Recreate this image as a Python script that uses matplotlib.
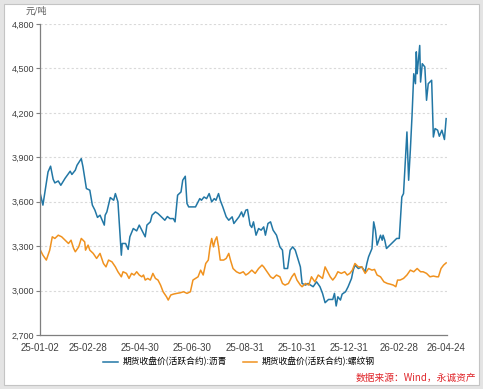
import matplotlib
matplotlib.use('Agg')
import matplotlib.pyplot as plt
from matplotlib.patches import Rectangle
from matplotlib.ticker import FuncFormatter
import pandas as pd

plt.rcParams['font.family'] = ['Liberation Sans', 'Noto Sans CJK SC', 'DejaVu Sans']

# 期货收盘价(活跃合约):沥青
bit_dates = ['25-01-02', '25-01-06', '25-01-12', '25-01-15', '25-01-18', '25-01-20', '25-01-24', '25-01-27',
             '25-02-01', '25-02-07', '25-02-09', '25-02-13', '25-02-15', '25-02-20', '25-02-22', '25-02-26',
             '25-03-02', '25-03-05', '25-03-08', '25-03-11', '25-03-14', '25-03-19', '25-03-20', '25-03-22',
             '25-03-26', '25-03-30', '25-04-01', '25-04-04', '25-04-08', '25-04-09', '25-04-13', '25-04-16',
             '25-04-18', '25-04-22', '25-04-26', '25-04-29', '25-05-02', '25-05-06', '25-05-08', '25-05-12',
             '25-05-14', '25-05-18', '25-05-21', '25-05-25', '25-05-29', '25-06-01', '25-06-04', '25-06-08',
             '25-06-10', '25-06-13', '25-06-15', '25-06-17', '25-06-19', '25-06-22', '25-06-24', '25-06-26',
             '25-06-30', '25-07-04', '25-07-06', '25-07-09', '25-07-11', '25-07-14', '25-07-17', '25-07-20',
             '25-07-23', '25-07-26', '25-07-28', '25-07-31', '25-08-02', '25-08-05', '25-08-09', '25-08-12',
             '25-08-16', '25-08-18', '25-08-21', '25-08-24', '25-08-27', '25-08-29', '25-09-01', '25-09-03',
             '25-09-06', '25-09-08', '25-09-10', '25-09-13', '25-09-16', '25-09-19', '25-09-22', '25-09-24',
             '25-09-27', '25-09-30', '25-10-03', '25-10-07', '25-10-11', '25-10-14', '25-10-16', '25-10-20',
             '25-10-23', '25-10-26', '25-10-29', '25-11-01', '25-11-04', '25-11-06', '25-11-10', '25-11-13',
             '25-11-19', '25-11-23', '25-11-27', '25-11-30', '25-12-03', '25-12-07', '25-12-12', '25-12-14',
             '25-12-16', '25-12-18', '25-12-21', '25-12-23', '25-12-27', '25-12-30', '26-01-03', '26-01-05',
             '26-01-07', '26-01-11', '26-01-15', '26-01-19', '26-01-21', '26-01-23', '26-01-27', '26-01-29',
             '26-01-31', '26-02-02', '26-02-06', '26-02-08', '26-02-09', '26-02-11', '26-02-13', '26-02-17',
             '26-02-21', '26-02-25', '26-02-28', '26-03-03', '26-03-05', '26-03-07', '26-03-09', '26-03-11',
             '26-03-13', '26-03-15', '26-03-17', '26-03-19', '26-03-20', '26-03-21', '26-03-24', '26-03-25',
             '26-03-27', '26-03-30', '26-04-01', '26-04-03', '26-04-07', '26-04-09', '26-04-11', '26-04-14',
             '26-04-16', '26-04-19', '26-04-22', '26-04-24']
bit_vals = [3678, 3577, 3801, 3840, 3752, 3727, 3740, 3711,
            3758, 3806, 3784, 3813, 3846, 3891, 3835, 3689,
            3678, 3577, 3543, 3494, 3509, 3442, 3509, 3531,
            3628, 3610, 3655, 3599, 3239, 3318, 3318, 3278,
            3363, 3419, 3403, 3442, 3408, 3363, 3442, 3464,
            3509, 3531, 3520, 3498, 3475, 3500, 3486, 3486,
            3464, 3644, 3655, 3666, 3745, 3772, 3588, 3565,
            3565, 3565, 3588, 3621, 3610, 3632, 3621, 3655,
            3599, 3621, 3610, 3655, 3610, 3565, 3498, 3475,
            3498, 3453, 3475, 3498, 3531, 3498, 3543, 3547,
            3442, 3426, 3464, 3374, 3419, 3408, 3430, 3374,
            3453, 3464, 3408, 3374, 3295, 3273, 3149, 3149,
            3273, 3295, 3273, 3217, 3160, 3048, 3037, 3048,
            3026, 3059, 3026, 2981, 2918, 2940, 2940, 2981,
            2896, 2958, 2936, 2976, 2992, 3026, 3082, 3138,
            3172, 3149, 3160, 3127, 3183, 3228, 3284, 3464,
            3408, 3307, 3374, 3340, 3374, 3340, 3284, 3307,
            3329, 3352, 3352, 3632, 3655, 3869, 4071, 3745,
            3948, 4183, 4464, 4397, 4612, 4464, 4655, 4408,
            4532, 4510, 4285, 4397, 4420, 4037, 4094, 4083,
            4042, 4083, 4020, 4161]

# 期货收盘价(活跃合约):螺纹钢
reb_dates = ['25-01-02', '25-01-06', '25-01-10', '25-01-14', '25-01-17', '25-01-20', '25-01-24', '25-01-28',
             '25-02-01', '25-02-05', '25-02-08', '25-02-11', '25-02-13', '25-02-17', '25-02-20', '25-02-24',
             '25-02-25', '25-02-28', '25-03-02', '25-03-06', '25-03-10', '25-03-14', '25-03-18', '25-03-21',
             '25-03-24', '25-03-28', '25-04-01', '25-04-04', '25-04-08', '25-04-10', '25-04-14', '25-04-17',
             '25-04-20', '25-04-23', '25-04-26', '25-04-29', '25-05-02', '25-05-04', '25-05-06', '25-05-09',
             '25-05-12', '25-05-15', '25-05-18', '25-05-21', '25-05-24', '25-05-27', '25-05-31', '25-06-02',
             '25-06-05', '25-06-08', '25-06-12', '25-06-16', '25-06-20', '25-06-24', '25-06-28', '25-07-01',
             '25-07-04', '25-07-07', '25-07-10', '25-07-13', '25-07-16', '25-07-19', '25-07-21', '25-07-23',
             '25-07-25', '25-07-27', '25-07-29', '25-07-31', '25-08-02', '25-08-06', '25-08-09', '25-08-12',
             '25-08-14', '25-08-17', '25-08-21', '25-08-25', '25-08-29', '25-09-01', '25-09-04', '25-09-08',
             '25-09-12', '25-09-16', '25-09-20', '25-09-22', '25-09-26', '25-09-30', '25-10-03', '25-10-07',
             '25-10-11', '25-10-14', '25-10-17', '25-10-21', '25-10-25', '25-10-28', '25-10-31', '25-11-04',
             '25-11-06', '25-11-10', '25-11-14', '25-11-17', '25-11-21', '25-11-25', '25-11-30', '25-12-03',
             '25-12-06', '25-12-09', '25-12-12', '25-12-15', '25-12-18', '25-12-22', '25-12-26', '25-12-29',
             '26-01-01', '26-01-04', '26-01-07', '26-01-11', '26-01-15', '26-01-19', '26-01-23', '26-01-27',
             '26-01-30', '26-02-02', '26-02-06', '26-02-10', '26-02-14', '26-02-17', '26-02-21', '26-02-24',
             '26-02-26', '26-03-01', '26-03-05', '26-03-09', '26-03-13', '26-03-17', '26-03-21', '26-03-25',
             '26-03-28', '26-04-01', '26-04-05', '26-04-09', '26-04-13', '26-04-15', '26-04-18', '26-04-21',
             '26-04-24']
reb_vals = [3285, 3239, 3206, 3273, 3363, 3352, 3374, 3363,
            3340, 3318, 3340, 3285, 3262, 3295, 3352, 3329,
            3273, 3307, 3273, 3251, 3217, 3251, 3183, 3160,
            3206, 3194, 3160, 3127, 3093, 3127, 3116, 3082,
            3116, 3105, 3127, 3105, 3093, 3105, 3071, 3082,
            3071, 3116, 3082, 3071, 3037, 2992, 2958, 2936,
            2970, 2976, 2981, 2985, 2992, 2981, 2992, 3071,
            3082, 3093, 3138, 3105, 3183, 3206, 3295, 3352,
            3295, 3340, 3363, 3295, 3206, 3206, 3217, 3251,
            3206, 3149, 3127, 3116, 3127, 3105, 3116, 3138,
            3116, 3149, 3172, 3160, 3127, 3093, 3082, 3105,
            3093, 3048, 3037, 3048, 3093, 3116, 3071, 3037,
            3026, 3048, 3037, 3093, 3059, 3105, 3082, 3160,
            3127, 3093, 3071, 3093, 3127, 3116, 3127, 3105,
            3116, 3138, 3183, 3160, 3160, 3116, 3149, 3138,
            3143, 3105, 3093, 3059, 3048, 3044, 3037, 3026,
            3071, 3071, 3082, 3105, 3138, 3127, 3149, 3127,
            3127, 3116, 3093, 3098, 3093, 3093, 3149, 3172,
            3187]

tick_labels = ['25-01-02', '25-02-28', '25-04-30', '25-06-30', '25-08-31',
               '25-10-31', '25-12-31', '26-02-28', '26-04-24']
y_ticks = [2700, 3000, 3300, 3600, 3900, 4200, 4500, 4800]

fmt = '%y-%m-%d'
bit_x = pd.to_datetime(bit_dates, format=fmt)
reb_x = pd.to_datetime(reb_dates, format=fmt)
tick_x = pd.to_datetime(tick_labels, format=fmt)

W, H = 483, 389
fig = plt.figure(figsize=(W / 100, H / 100), dpi=100, facecolor='#e4e4e4')
# white card with thin grey edge
fig.patches.append(Rectangle((4 / W, 4 / H), 475 / W, 381 / H, transform=fig.transFigure,
                             facecolor='white', edgecolor='#c4c4c4', lw=0.8, zorder=-10))

ax = fig.add_axes([39.5 / W, (H - 335) / H, (447 - 39.5) / W, (335 - 24) / H])
ax.set_facecolor('none')

blue = '#2277a5'
orange = '#f0921f'
ax.plot(bit_x, bit_vals, color=blue, lw=1.1, label='期货收盘价(活跃合约):沥青')
ax.plot(reb_x, reb_vals, color=orange, lw=1.1, label='期货收盘价(活跃合约):螺纹钢')

ax.set_ylim(2700, 4800)
ax.set_yticks(y_ticks)
ax.yaxis.set_major_formatter(FuncFormatter(lambda v, p: '{:,.0f}'.format(v)))
ax.set_xlim(tick_x[0], tick_x[-1] + pd.Timedelta(days=1))
ax.set_xticks(tick_x)
ax.set_xticklabels(tick_labels)

for v in y_ticks[1:]:
    ax.axhline(v, color='#d9d9d9', lw=0.8, ls=(0, (2, 2)), zorder=0)

for s in ['top', 'right']:
    ax.spines[s].set_visible(False)
for s in ['left', 'bottom']:
    ax.spines[s].set_color('#7f7f7f')
    ax.spines[s].set_linewidth(0.9)
ax.tick_params(axis='y', length=3, width=0.8, color='#7f7f7f', labelsize=6.5, labelcolor='#404040', pad=1)
ax.tick_params(axis='x', length=0, labelsize=7, labelcolor='#404040', pad=6)

fig.text(36 / W, 1 - 11 / H, '元/吨', fontsize=6.5, color='#595959', ha='center', va='center',
         family=['Noto Sans CJK SC'])

fig.legend(loc='center', bbox_to_anchor=(0.495, 1 - 362 / H), ncol=2, frameon=False,
           handlelength=1.7, columnspacing=1.8, handletextpad=0.5,
           prop={'family': ['Noto Sans CJK SC'], 'size': 6.3})

fig.text(476 / W, 1 - 378 / H, '数据来源：Wind，永诚资产', fontsize=7, color='#e0262b',
         ha='right', va='center', family=['Noto Sans CJK SC'])

fig.savefig('out.png', dpi=100, facecolor=fig.get_facecolor())
